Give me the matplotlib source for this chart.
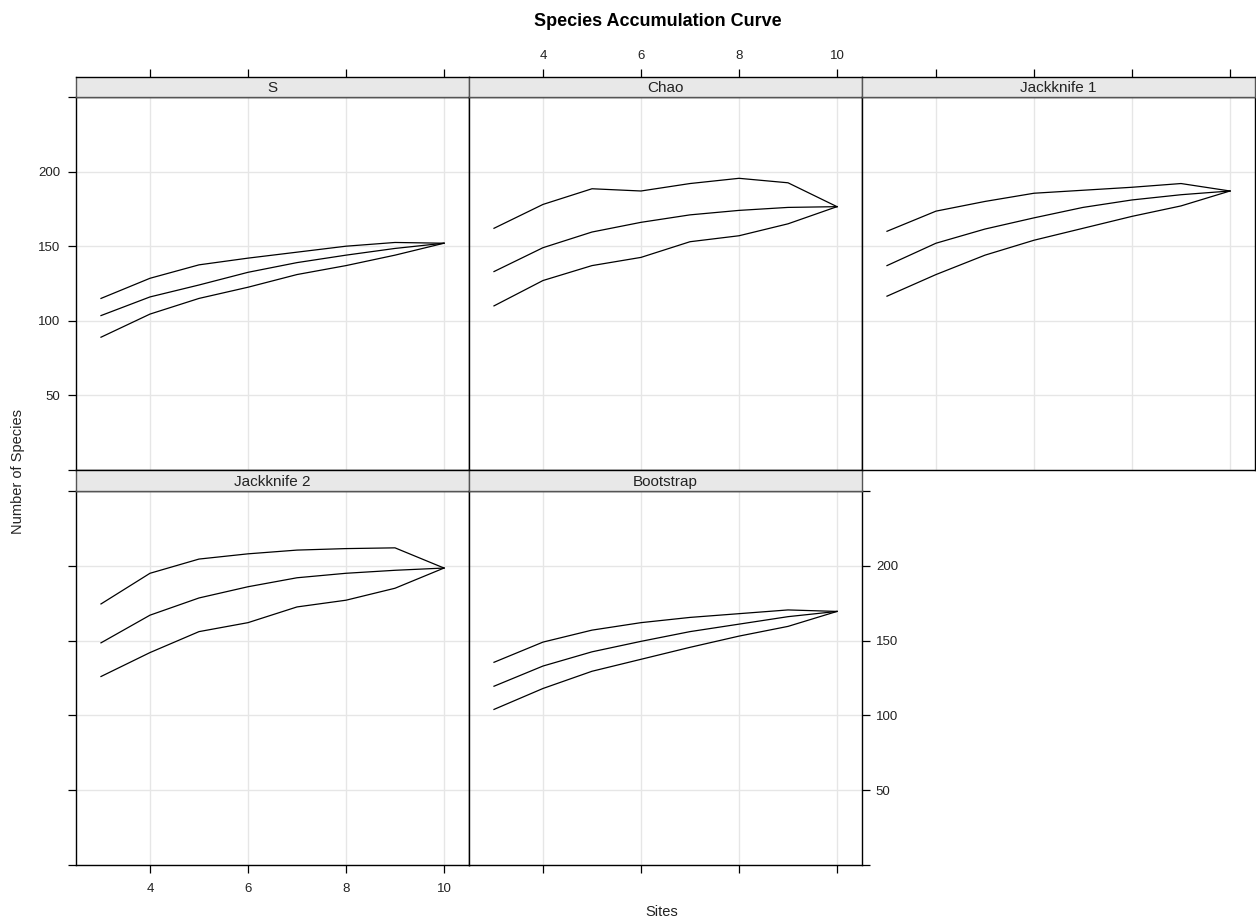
import matplotlib.pyplot as plt

plt.rcParams['font.family'] = ['Liberation Sans', 'DejaVu Sans']

sites = [3, 4, 5, 6, 7, 8, 9, 10]

s_upper = [115, 128.5, 137.5, 142, 146, 150, 152.5, 152]
s_mean = [103.5, 116, 124, 132.5, 139, 144, 148.5, 152]
s_lower = [89, 104.5, 115, 122.5, 131, 137, 144, 152]

chao_upper = [162, 178, 188.5, 187, 192, 195.5, 192.5, 176.5]
chao_mean = [133, 149, 159.5, 166, 171, 174, 176, 176.5]
chao_lower = [110, 127, 137, 142.5, 153, 157, 165, 176.5]

jack1_upper = [160, 173.5, 180, 185.5, 187.5, 189.5, 192, 187]
jack1_mean = [137, 152, 161.5, 169, 176, 181, 184.5, 187]
jack1_lower = [116.5, 131, 144, 154, 162, 170, 177, 187]

jack2_upper = [174.5, 195, 204.5, 208, 210.5, 211.5, 212, 198.5]
jack2_mean = [148.5, 167, 178.5, 186, 192, 195, 197, 198.5]
jack2_lower = [126, 142, 156, 162, 172.5, 177, 185, 198.5]

boot_upper = [135.5, 149, 157, 162, 165.5, 168, 170.5, 169.5]
boot_mean = [119.5, 133, 142.5, 149.5, 156, 161, 166, 169.5]
boot_lower = [104, 118, 129.5, 137.5, 145.5, 153, 159.5, 169.5]

panel_names = ["S", "Chao", "Jackknife 1", "Jackknife 2", "Bootstrap"]
panel_data = [
    (s_lower, s_mean, s_upper),
    (chao_lower, chao_mean, chao_upper),
    (jack1_lower, jack1_mean, jack1_upper),
    (jack2_lower, jack2_mean, jack2_upper),
    (boot_lower, boot_mean, boot_upper),
]

x_ticks = [4, 6, 8, 10]
y_ticks = [0, 50, 100, 150, 200, 250]
y_labels = ["", "50", "100", "150", "200", ""]

W, H = 1256, 924
fig = plt.figure(figsize=(W / 100, H / 100), dpi=100)

col_left = [76, 469, 862]
col_width = 393
# (strip top, panel top, panel bottom) in pixels from the top
rows = [(77, 97, 470), (470, 491, 865)]
tick_color = '#222222'


def box(x0, y_top, w, h):
    return [x0 / W, (H - y_top - h) / H, w / W, h / H]


for i, name in enumerate(panel_names):
    r, c = divmod(i, 3)
    strip_top, panel_top, panel_bot = rows[r]
    ax = fig.add_axes(box(col_left[c], panel_top, col_width, panel_bot - panel_top))
    st = fig.add_axes(box(col_left[c], strip_top, col_width, panel_top - strip_top))

    ax.set_xlim(2.49, 10.51)
    ax.set_ylim(0, 250)
    ax.set_xticks(x_ticks)
    ax.set_yticks(y_ticks)
    ax.grid(True, color='#e6e6e6', linewidth=1)
    ax.set_axisbelow(True)
    for sp in ax.spines.values():
        sp.set_color('black')
        sp.set_linewidth(1)

    for series in panel_data[i]:
        ax.plot(sites, series, color='black', linewidth=0.9)

    ax.tick_params(direction='out', length=5.5, width=0.9, color='black', labelsize=9.5,
                   labelcolor=tick_color,
                   top=False, bottom=False, left=False, right=False,
                   labeltop=False, labelbottom=False, labelleft=False, labelright=False)

    # bottom row gets x ticks below, left column gets y ticks
    if r == 1:
        ax.tick_params(axis='x', bottom=True, labelbottom=(c == 0), pad=7.5)
    if c == 0:
        ax.tick_params(axis='y', left=True, labelleft=(r == 0), pad=6)
        ax.set_yticklabels(y_labels)
    if i == 4:
        ax.tick_params(axis='y', right=True, labelright=True, pad=4.5)
        ax.set_yticklabels(y_labels)

    # strip
    st.set_xlim(2.49, 10.51)
    st.set_ylim(0, 1)
    st.set_facecolor('#e8e8e8')
    st.set_yticks([])
    st.set_xticks(x_ticks)
    st.tick_params(axis='x', direction='out', length=5.5, width=0.9, labelsize=9.5,
                   labelcolor=tick_color,
                   bottom=False, labelbottom=False, top=(r == 0), labeltop=(r == 0 and c == 1),
                   pad=5)
    for sp in st.spines.values():
        sp.set_color('#555555')
        sp.set_linewidth(1)
    st.spines['top'].set_color('black')
    st.text(0.5, 0.45, name, transform=st.transAxes, ha='center', va='center',
            fontsize=11, color='#222222')

fig.text(658 / W, 1 - 21 / H, "Species Accumulation Curve", ha='center', va='center',
         fontsize=13, fontweight='bold')
fig.text(662 / W, 1 - 912 / H, "Sites", ha='center', va='center', fontsize=10.5,
         color='#222222')
fig.text(18 / W, 1 - 471 / H, "Number of Species", ha='center', va='center',
         fontsize=10.5, rotation=90, color='#222222')

fig.savefig("out.png", dpi=100)
